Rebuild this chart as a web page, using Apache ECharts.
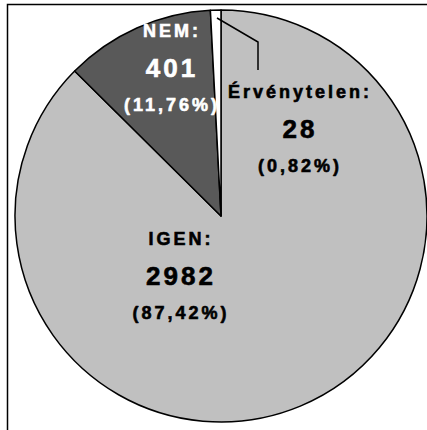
<!DOCTYPE html>
<html>
<head>
<meta charset="utf-8">
<script src="https://cdn.jsdelivr.net/npm/echarts@6/dist/echarts.min.js"></script>
<style>
  html, body { margin: 0; padding: 0; background: #fff; }
  #chart { width: 427px; height: 430px; }
  #chart text { letter-spacing: 3px; }
</style>
</head>
<body>
<div id="chart"></div>
<script>
// ---- data ----
const categories = ['IGEN', 'NEM', 'Érvénytelen'];
const values = [2982, 401, 28];
const sliceColors = ['#c0c0c0', '#595959', '#ffffff'];
const labelColors = ['#000000', '#ffffff', '#000000'];

// ---- layout (style only) ----
const cx = 221, cy = 216, R = 206;
const labelOffsets = [[-40, 60], [-49, -148], [79, -87]];
const leaderOffsets = [[-4, -198], [37, -174], [37, -146]];

const chart = echarts.init(document.getElementById('chart'), null, { renderer: 'svg' });

const fontFamily = '"Liberation Sans", Arial, sans-serif';

const data = categories.map(function (name, i) {
  const c = labelColors[i];
  const tok = { color: c, textBorderColor: c, textBorderWidth: 0.6 };
  return {
    name: name,
    value: values[i],
    itemStyle: { color: sliceColors[i] },
    label: {
      color: c,
      rich: { n: tok, v: tok, p: tok }
    }
  };
});

chart.setOption({
  animation: false,
  backgroundColor: '#ffffff',
  graphic: [{
    type: 'rect',
    z: -10,
    shape: { x: 7.5, y: 4.5, width: 600, height: 600 },
    style: { fill: 'none', stroke: '#000', lineWidth: 1.5 },
    silent: true
  }, {
    type: 'polyline',
    z: 100,
    shape: { points: leaderOffsets.map(function (q) { return [cx + q[0], cy + q[1]]; }) },
    style: { fill: 'none', stroke: '#000', lineWidth: 1.5 },
    silent: true
  }],
  series: [{
    type: 'pie',
    center: [cx, cy],
    radius: R,
    startAngle: 90,
    clockwise: true,
    avoidLabelOverlap: false,
    emphasis: { disabled: true },
    itemStyle: { borderColor: '#000', borderWidth: 1.5 },
    label: {
      show: true,
      position: 'inside',
      fontFamily: fontFamily,
      fontWeight: 'bold',
      formatter: function (p) {
        return '{n|' + p.name + ':}\n{v|' + p.value + '}\n{p|(' +
          p.percent.toFixed(2).replace('.', ',') + '%)}';
      },
      rich: {
        n: { fontFamily: fontFamily, fontWeight: 'bold', fontSize: 18, lineHeight: 37 },
        v: { fontFamily: fontFamily, fontWeight: 'bold', fontSize: 26, lineHeight: 37 },
        p: { fontFamily: fontFamily, fontWeight: 'bold', fontSize: 18, lineHeight: 37 }
      }
    },
    labelLine: { show: false },
    labelLayout: function (params) {
      const o = labelOffsets[params.dataIndex];
      return { x: cx + o[0], y: cy + o[1], align: 'center', verticalAlign: 'middle' };
    },
    data: data
  }]
});
</script>
</body>
</html>
